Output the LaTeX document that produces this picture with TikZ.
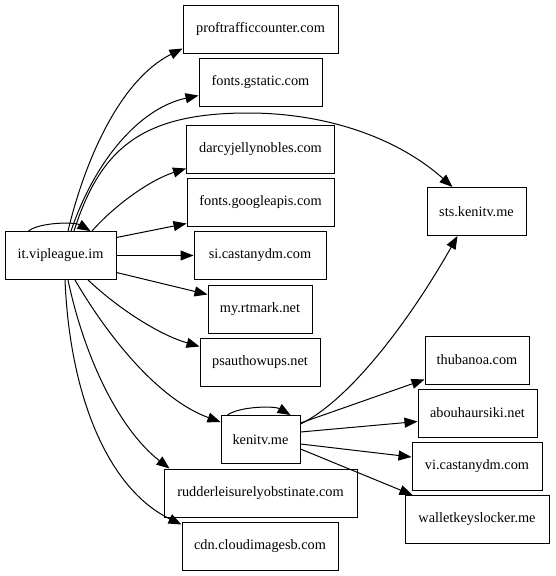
\documentclass[tikz,border=0pt]{standalone}
\usepackage{fontspec}
\newfontfamily\gvfont{Liberation Serif}
\usetikzlibrary{arrows.meta}
\begin{document}
\begin{tikzpicture}[x=1pt,y=-1pt,
  box/.style={draw, line width=1pt, minimum height=48pt, inner sep=0pt, font=\gvfont\fontsize{14.3}{16}\selectfont},
  edge/.style={line width=1pt, -{Triangle[length=13pt,width=10pt]}}]
\useasboundingbox[fill=white] (0,0) rectangle (555,576);
\node[box,minimum width=155pt] (prof) at (260.5,29) {proftrafficcounter.com};
\node[box,minimum width=111pt] (vip) at (60.5,255.5) {it.vipleague.im};
\node[box,minimum width=123pt] (gst) at (260.5,82) {fonts.gstatic.com};
\node[box,minimum width=148pt] (darcy) at (260.5,149) {darcyjellynobles.com};
\node[box,minimum width=147pt] (gapi) at (260.5,202) {fonts.googleapis.com};
\node[box,minimum width=132pt] (si) at (260,255.5) {si.castanydm.com};
\node[box,minimum width=104pt] (rtm) at (260,309) {my.rtmark.net};
\node[box,minimum width=120pt] (psa) at (260,362) {psauthowups.net};
\node[box,minimum width=79pt] (ken) at (260.5,439.5) {kenitv.me};
\node[box,minimum width=193pt] (rud) at (260.5,493) {rudderleisurelyobstinate.com};
\node[box,minimum width=156pt] (cdn) at (260,546) {cdn.cloudimagesb.com};
\node[box,minimum width=99pt] (sts) at (476.5,211.5) {sts.kenitv.me};
\node[box,minimum width=104pt] (thu) at (477,360) {thubanoa.com};
\node[box,minimum width=119pt] (abo) at (477.5,413) {abouhaursiki.net};
\node[box,minimum width=130pt] (vi) at (477,466.5) {vi.castanydm.com};
\node[box,minimum width=144pt] (wal) at (477,519.5) {walletkeyslocker.me};
% it.vipleague.im edges
\draw[edge] ([xshift=-32pt]vip.north) .. controls (40,222) and (75,222) .. ([xshift=30pt]vip.north);
\draw[edge] ([xshift=7.5pt]vip.north) .. controls (85,160) and (120,80) .. ([yshift=5pt]prof.south west);
\draw[edge] ([xshift=10.5pt]vip.north) .. controls (95,160) and (140,108) .. ([yshift=11pt]gst.south west);
\draw[edge] ([xshift=13.5pt]vip.north) .. controls (100,150) and (140,113) .. (248,113) .. controls (330,113) and (400,140) .. ([xshift=26pt]sts.north west);
\draw[edge] ([xshift=31.5pt]vip.north) .. controls (115,205) and (150,180) .. ([yshift=5pt]darcy.south west);
\draw[edge] ([yshift=-6.5pt]vip.north east) -- ([yshift=3pt]gapi.south west);
\draw[edge] (vip.east) -- (si.west);
\draw[edge] ([yshift=7.5pt]vip.south east) -- ([yshift=-10pt]rtm.north west);
\draw[edge] ([xshift=27.5pt]vip.south) .. controls (120,310) and (160,335) .. ([yshift=-9pt]psa.north west);
\draw[edge] ([xshift=14.5pt]vip.south) .. controls (110,340) and (160,400) .. ([yshift=-7pt]ken.north west);
\draw[edge] ([xshift=7.5pt]vip.south) .. controls (85,360) and (120,430) .. ([xshift=6pt]rud.north west);
\draw[edge] ([xshift=4.5pt]vip.south) .. controls (70,400) and (110,490) .. ([yshift=-3pt]cdn.north west);
% kenitv.me edges
\draw[edge] ([xshift=-33pt]ken.north) .. controls (240,406) and (275,406) .. ([xshift=30pt]ken.north);
\draw[edge] ([yshift=-9pt]ken.north east) .. controls (350,400) and (410,320) .. ([xshift=31pt]sts.south west);
\draw[edge] ([yshift=-8pt]ken.north east) -- ([yshift=5pt]thu.south west);
\draw[edge] ([yshift=-17pt]ken.north east) -- ([yshift=16pt]abo.south west);
\draw[edge] ([yshift=-29pt]ken.north east) -- ([yshift=-15pt]vi.north west);
\draw[edge] ([yshift=-34pt]ken.north east) -- ([xshift=8pt]wal.north west);
\end{tikzpicture}
\end{document}
